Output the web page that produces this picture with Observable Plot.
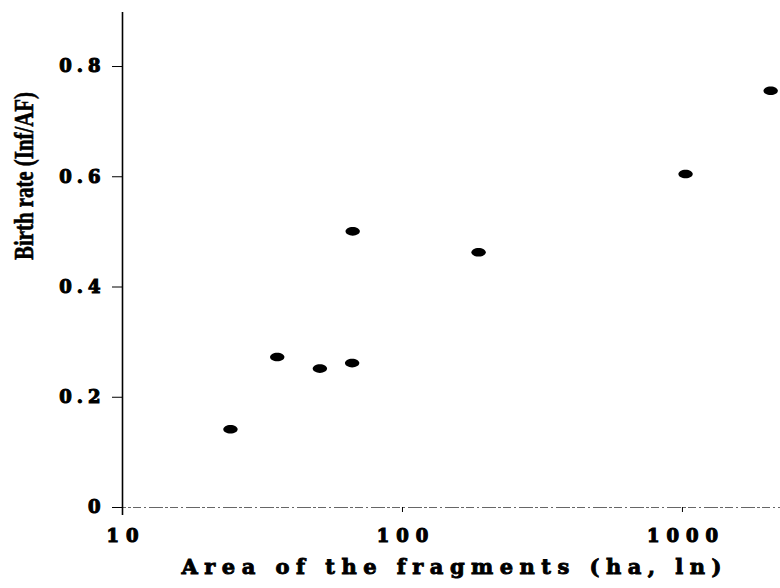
<!DOCTYPE html>
<html>
<head>
<meta charset="utf-8">
<script src="https://cdn.jsdelivr.net/npm/d3@7"></script>
<script src="https://cdn.jsdelivr.net/npm/@observablehq/plot@0.6"></script>
<style>
  html, body { margin: 0; padding: 0; background: #fff; }
  #chart svg { display: block; }
</style>
</head>
<body>
<div id="chart"></div>
<script>
// Fragment area (ha) and birth rate (infants per adult female)
const areas  = [24.3, 35.7, 50.7, 66.1, 66.4, 187, 1026, 2066];
const births = [0.142, 0.273, 0.252, 0.262, 0.501, 0.463, 0.605, 0.756];

const xTicks = [10, 100, 1000];
const xTickLabels = ["10", "100", "1000"];
const yTicks = [0, 0.2, 0.4, 0.6, 0.8];
const yTickLabels = ["0", "0.2", "0.4", "0.6", "0.8"];

const xLabel = "Area of the fragments (ha, ln)";
const yLabel = "Birth rate (Inf/AF)";

const data = areas.map((a, i) => ({area: a, birth: births[i]}));

// Flattened dot, drawn as an ellipse with four bezier quarters
const ellipse = {
  draw(ctx, size) {
    const r = Math.sqrt(size / Math.PI);
    const rx = r, ry = r * 0.6, k = 0.5523;
    ctx.moveTo(rx, 0);
    ctx.bezierCurveTo(rx, ry * k, rx * k, ry, 0, ry);
    ctx.bezierCurveTo(-rx * k, ry, -rx, ry * k, -rx, 0);
    ctx.bezierCurveTo(-rx, -ry * k, -rx * k, -ry, 0, -ry);
    ctx.bezierCurveTo(rx * k, -ry, rx, -ry * k, rx, 0);
    ctx.closePath();
  }
};

const tickFont = {fontFamily: "DejaVu Serif", fontWeight: "bold"};

const chart = Plot.plot({
  width: 780,
  height: 588,
  marginLeft: 122,
  marginRight: 0,
  marginTop: 12,
  marginBottom: 81,
  style: {background: "#fff", color: "#000", fontFamily: "DejaVu Serif"},
  x: {type: "log", domain: [10, 2240]},
  y: {domain: [0, 0.898]},
  marks: [
    // broken baseline along y = 0
    Plot.ruleY([0], {stroke: "#666", strokeWidth: 1, strokeDasharray: "14,2,3,2,8,3,2,3", insetLeft: -10}),
    // vertical axis line, running slightly below the baseline
    Plot.ruleX([10], {stroke: "#000", strokeWidth: 1.6, insetBottom: -8}),
    Plot.axisY({
      ticks: yTicks, tickSize: 10, tickPadding: 12, label: null,
      tickFormat: (d) => yTickLabels[yTicks.indexOf(d)], fontSize: 18, ...tickFont
    }),
    Plot.axisX({
      ticks: xTicks, tickSize: 5, tickPadding: 17, label: null,
      tickFormat: (d) => xTickLabels[xTicks.indexOf(d)], fontSize: 18, ...tickFont
    }),
    Plot.dot(data, {x: "area", y: "birth", r: 7.2, symbol: ellipse, fill: "#000", stroke: "none"}),
    Plot.text([xLabel], {frameAnchor: "bottom", dy: 66, fontSize: 21, fontWeight: "bold", fontFamily: "DejaVu Serif"}),
    Plot.text([yLabel], {frameAnchor: "left", dx: -98, rotate: -90, fontSize: 28, fontWeight: "bold", fontFamily: "Liberation Serif"})
  ]
});

document.getElementById("chart").appendChild(chart);

// letter spacing, heavier strokes and fitted widths for the display type
const svg = d3.select(chart);
const heavy = (sel, w) => sel.attr("stroke", "#000").attr("stroke-width", w).attr("paint-order", "stroke");
heavy(svg.selectAll('g[aria-label="x-axis tick label"] text')
  .style("letter-spacing", "7px").attr("dx", 3.5), 1.1);
heavy(svg.selectAll('g[aria-label="y-axis tick label"] text')
  .style("letter-spacing", "5px").attr("dx", 5), 1.1);
svg.selectAll("text").each(function () {
  const t = d3.select(this);
  if (t.text() === xLabel) heavy(t.attr("textLength", 540).attr("lengthAdjust", "spacing"), 0.9);
  if (t.text() === yLabel) heavy(t.attr("textLength", 168).attr("lengthAdjust", "spacingAndGlyphs"), 0.6);
});
</script>
</body>
</html>
